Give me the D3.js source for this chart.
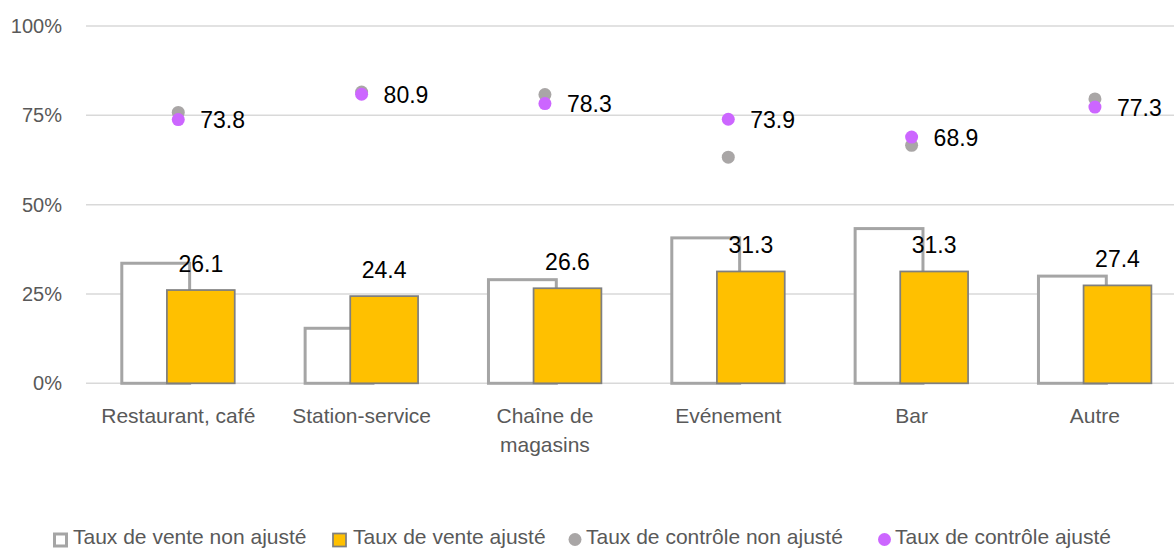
<!DOCTYPE html>
<html>
<head>
<meta charset="utf-8">
<script src="https://cdn.jsdelivr.net/npm/d3@7/dist/d3.min.js"></script>
<style>
  html, body { margin: 0; padding: 0; background: #fff; }
  svg { display: block; }
  text { font-family: "Liberation Sans", Arial, sans-serif; }
</style>
</head>
<body>
<svg id="chart" width="1174" height="548"></svg>
<script>
// ---- Data ----
const categories = ["Restaurant, café", "Station-service", "Chaîne de\nmagasins", "Evénement", "Bar", "Autre"];
const venteNonAjuste = [33.6, 15.4, 29.0, 40.7, 43.3, 30.0];
const venteAjuste = [26.1, 24.4, 26.6, 31.3, 31.3, 27.4];
const controleNonAjuste = [75.8, 81.5, 80.8, 63.3, 66.6, 79.6];
const controleAjuste = [73.8, 80.9, 78.3, 73.9, 68.9, 77.3];
const yTicks = [0, 25, 50, 75, 100];
const yTickLabels = ["0%", "25%", "50%", "75%", "100%"];
const legendLabels = ["Taux de vente non ajusté", "Taux de vente ajusté", "Taux de contrôle non ajusté", "Taux de contrôle ajusté"];

// ---- Layout ----
const svg = d3.select("#chart");
const x = d3.scaleBand().domain(categories).range([86.6, 1186.6]).paddingInner(0).paddingOuter(0);
const y = d3.scaleLinear().domain([0, 100]).range([383.3, 26]);
const bw = x.bandwidth();
const barW = bw * 0.37;
const off = bw * 0.123;
const cx = c => x(c) + bw / 2;

const textGray = "#595959";

// gridlines
svg.append("g").selectAll("line").data(yTicks).join("line")
  .attr("x1", 86).attr("x2", 1174)
  .attr("y1", d => y(d)).attr("y2", d => y(d))
  .attr("stroke", "#D9D9D9").attr("stroke-width", 1.5);

// y tick labels
svg.append("g").selectAll("text").data(yTicks).join("text")
  .attr("x", 62).attr("y", d => y(d) + 7)
  .attr("text-anchor", "end")
  .attr("font-size", 20).attr("fill", textGray)
  .text((d, i) => yTickLabels[i]);

// unadjusted bars (outline)
svg.append("g").selectAll("rect").data(categories).join("rect")
  .attr("x", c => cx(c) - off - barW / 2)
  .attr("width", barW)
  .attr("y", (c, i) => y(venteNonAjuste[i]))
  .attr("height", (c, i) => y(0) - y(venteNonAjuste[i]))
  .attr("fill", "#fff").attr("stroke", "#A5A5A5").attr("stroke-width", 3);

// adjusted bars
svg.append("g").selectAll("rect").data(categories).join("rect")
  .attr("x", c => cx(c) + off - barW / 2)
  .attr("width", barW)
  .attr("y", (c, i) => y(venteAjuste[i]))
  .attr("height", (c, i) => y(0) - y(venteAjuste[i]))
  .attr("fill", "#FFC000").attr("stroke", "#7F7F7F").attr("stroke-width", 1.75);

// adjusted bar labels
svg.append("g").selectAll("text").data(categories).join("text")
  .attr("x", c => cx(c) + off)
  .attr("y", (c, i) => y(venteAjuste[i]) - 18)
  .attr("text-anchor", "middle")
  .attr("font-size", 23).attr("fill", "#000")
  .text((c, i) => venteAjuste[i].toFixed(1));

// control dots
svg.append("g").selectAll("circle").data(categories).join("circle")
  .attr("cx", c => cx(c))
  .attr("cy", (c, i) => y(controleNonAjuste[i]))
  .attr("r", 6.5).attr("fill", "#A9A6A6");
svg.append("g").selectAll("circle").data(categories).join("circle")
  .attr("cx", c => cx(c))
  .attr("cy", (c, i) => y(controleAjuste[i]))
  .attr("r", 6.5).attr("fill", "#CC66FF");

// control labels
svg.append("g").selectAll("text").data(categories).join("text")
  .attr("x", c => cx(c) + 22)
  .attr("y", (c, i) => y(controleAjuste[i]) + 8.5)
  .attr("font-size", 23).attr("fill", "#000")
  .text((c, i) => controleAjuste[i].toFixed(1));

// category labels
const cat = svg.append("g").selectAll("text").data(categories).join("text")
  .attr("x", c => cx(c))
  .attr("y", 423)
  .attr("text-anchor", "middle")
  .attr("font-size", 21).attr("fill", textGray);
cat.each(function(c) {
  const lines = c.split("\n");
  d3.select(this).selectAll("tspan").data(lines).join("tspan")
    .attr("x", cx(c))
    .attr("dy", (d, i) => i === 0 ? 0 : 29)
    .text(d => d);
});

// legend
const legendTextX = [73, 353, 586, 895];
const lg = svg.append("g");
const ly = 539.5;
lg.append("rect").attr("x", 54.5).attr("y", ly - 5.5).attr("width", 12).attr("height", 12)
  .attr("fill", "#fff").attr("stroke", "#A5A5A5").attr("stroke-width", 3);
lg.append("rect").attr("x", 333).attr("y", ly - 6).attr("width", 13).attr("height", 13)
  .attr("fill", "#FFC000").attr("stroke", "#7F7F7F").attr("stroke-width", 1.75);
lg.append("circle").attr("cx", 575).attr("cy", ly).attr("r", 6.5).attr("fill", "#A9A6A6");
lg.append("circle").attr("cx", 884.5).attr("cy", ly).attr("r", 6.5).attr("fill", "#CC66FF");
lg.selectAll("text.leg").data(legendLabels).join("text")
  .attr("class", "leg")
  .attr("x", (d, i) => legendTextX[i])
  .attr("y", 543.5)
  .attr("font-size", 21).attr("fill", textGray)
  .text(d => d);
</script>
</body>
</html>
